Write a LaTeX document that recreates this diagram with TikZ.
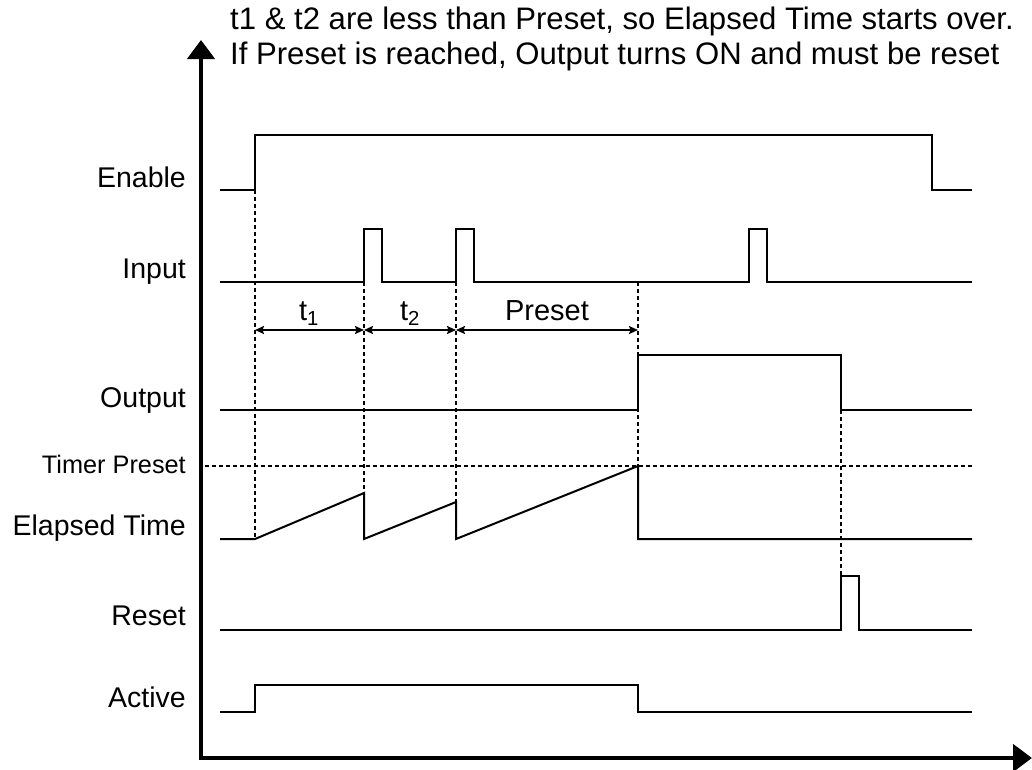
\documentclass[tikz,border=0pt]{standalone}
\usepackage{fontspec}
\setmainfont{Liberation Sans}
\usetikzlibrary{arrows.meta}
\begin{document}
\begin{tikzpicture}[x=1pt,y=-1pt,
  sig/.style={line width=2pt,line join=miter},
  axis/.style={line width=4.5pt,line join=miter,
    {Triangle[length=19pt,width=27pt]}-{Triangle[length=19pt,width=27pt]}},
  guide/.style={line width=1.6pt,dash pattern=on 4pt off 3pt},
  dim/.style={line width=2.2pt,{Stealth[length=9pt,width=8pt,inset=1.5pt]}-{Stealth[length=9pt,width=8pt,inset=1.5pt]}},
  lbl/.style={anchor=base east,inner sep=0pt,font=\fontsize{28.5}{34}\selectfont},
  small/.style={anchor=base east,inner sep=0pt,font=\fontsize{25.3}{30}\selectfont},
  dimlbl/.style={anchor=base,inner sep=0pt,font=\fontsize{29}{34}\selectfont},
  note/.style={anchor=base west,inner sep=0pt,font=\fontsize{31.1}{36}\selectfont}]
\useasboundingbox (0,0) rectangle (1032,769);

% axes
\coordinate (ytop) at (201,40);
\coordinate (orig) at (201,758);
\coordinate (xend) at (1032,758);
\draw[axis] (ytop) -- (orig) -- (xend);

% note
\node[note] (n1) at (230,29) {t1 \& t2 are less than Preset, so Elapsed Time starts over.};
\node[note] (n2) at (230,64) {If Preset is reached, Output turns ON and must be reset};

% labels
\node[lbl] (lEnable) at (186,187) {Enable};
\node[lbl] (lInput) at (186,278) {Input};
\node[lbl] (lOutput) at (186,407) {Output};
\node[small] (lPreset) at (186,473) {Timer Preset};
\node[lbl] (lElapsed) at (186,535) {Elapsed Time};
\node[lbl] (lReset) at (186,625) {Reset};
\node[lbl] (lActive) at (186,707) {Active};

% guides
\draw[guide] (205,466) -- (972,466);
\draw[guide] (255,190) -- (255,539);
\draw[guide] (364,282) -- (364,493);
\draw[guide] (456,282) -- (456,502);
\draw[guide] (638,282) -- (638,466);
\draw[guide] (841,410) -- (841,576);

% signals
\draw[sig] (220,190) -- (255,190) -- (255,135) -- (932,135) -- (932,190) -- (972,190);
\draw[sig] (220,282) -- (364,282) -- (364,229) -- (382,229) -- (382,282) -- (456,282) -- (456,229) -- (474,229) -- (474,282) -- (749,282) -- (749,229) -- (767,229) -- (767,282) -- (972,282);
\draw[sig] (220,410) -- (638,410) -- (638,355) -- (841,355) -- (841,410) -- (972,410);
\draw[sig] (220,539) -- (255,539) -- (364,493) -- (364,539) -- (456,502) -- (456,539) -- (638,466) -- (638,539) -- (972,539);
\draw[sig] (220,630) -- (841,630) -- (841,576) -- (859,576) -- (859,630) -- (972,630);
\draw[sig] (220,712) -- (255,712) -- (255,685) -- (638,685) -- (638,712) -- (972,712);

% dimension arrows
\coordinate (d0) at (255,330);
\coordinate (d1) at (364,330);
\coordinate (d2) at (456,330);
\coordinate (d3) at (638,330);
\draw[dim] (d0) -- (d1);
\draw[dim] (d1) -- (d2);
\draw[dim] (d2) -- (d3);
\node[dimlbl] (tone) at (309,320) {t\textsubscript{1}};
\node[dimlbl] (ttwo) at (410,320) {t\textsubscript{2}};
\node[dimlbl] (tpre) at (547,320) {Preset};
\end{tikzpicture}
\end{document}
